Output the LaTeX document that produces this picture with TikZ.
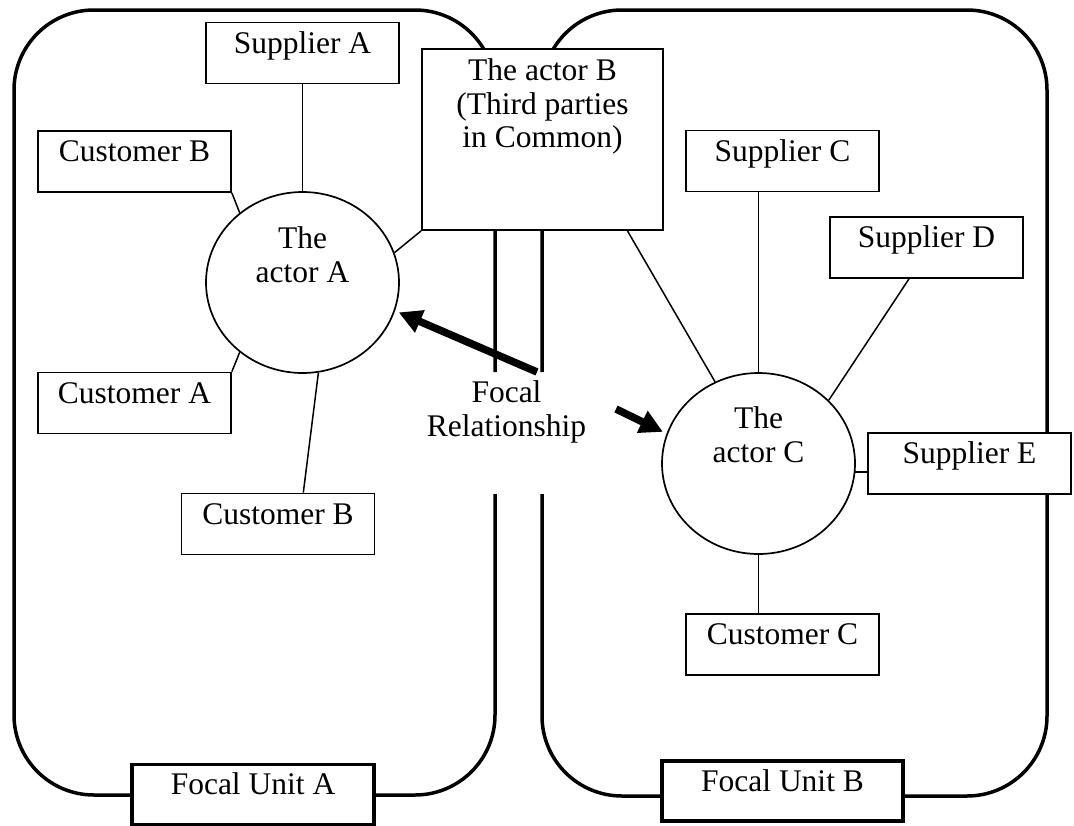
\documentclass[tikz,border=0pt]{standalone}
\usepackage{fontspec}
\setmainfont{Liberation Serif}
\usetikzlibrary{shapes.geometric,arrows.meta,calc}
\begin{document}
\begin{tikzpicture}[x=1pt,y=-1pt,
  lbl/.style={font=\fontsize{31.5}{33.5}\selectfont},
  unit/.style={line width=3.5pt, rounded corners=80pt},
  box/.style={lbl, draw, fill=white, line width=1.7pt, rectangle, inner sep=0pt,
    minimum width=193pt, minimum height=61pt, text height=22pt, text depth=22pt},
  unitbox/.style={box, line width=3.5pt, minimum width=242pt, minimum height=60pt},
  actor/.style={draw, ellipse, line width=1.7pt, fill=white,
    minimum width=193pt, minimum height=181pt, inner sep=0pt},
  txt/.style={lbl, align=center, inner sep=0pt, anchor=north},
  link/.style={line width=1.5pt},
  focal/.style={line width=7.5pt, shorten >=4pt, -{Triangle[length=23pt,width=23pt]}}
]
\useasboundingbox (0,0) rectangle (1074,825);

% the two focal units, left open where the focal relationship crosses
\draw[unit] (495,372) -- (495,10) -- (14,10) -- (14,795) -- (495,795) -- (495,494);
\draw[unit] (542,372) -- (542,10) -- (1047,10) -- (1047,796) -- (542,796) -- (542,494);

% surrounding actors
\node[box] (supA) at (302.5,53) {Supplier A};
\node[box] (cusB1) at (134.5,161.5) {Customer B};
\node[box] (cusA) at (134.5,403) {Customer A};
\node[box] (cusB2) at (278,524) {Customer B};
\node[box] (supC) at (782.5,161) {Supplier C};
\node[box] (supD) at (926.5,247.5) {Supplier D};
\node[box, minimum width=203pt] (supE) at (969.5,463.5) {Supplier E};
\node[box] (cusC) at (782.5,644.5) {Customer C};

% unit labels
\node[unitbox] (unitA) at (253,794.5) {Focal Unit A};
\node[unitbox, minimum width=241pt] (unitB) at (782.5,791) {Focal Unit B};

% third party in common
\node[draw, fill=white, line width=1.7pt, minimum width=241pt, minimum height=181pt] (actB) at (542.5,139.5) {};
\node[txt] (actBtext) at (542.5,58.5) {The actor B\\(Third parties\\in Common)};

% focal actors
\node[actor] (actA) at (302.5,282.5) {};
\node[txt] (actAtext) at (302.5,226.5) {The\\actor A};
\node[actor] (actC) at (758.5,463.5) {};
\node[txt] (actCtext) at (758.5,406.5) {The\\actor C};

\node[txt] (rel) at (506.5,380.5) {Focal\\Relationship};

% ties of actor A
\draw[link] (supA) -- (actA);
\draw[link] (cusB1.south east) -- (actA.132);
\draw[link] (cusA.north east) -- (actA.228);
\draw[link] (actA.280) -- ($(cusB2.north)!0.26!(cusB2.north east)$);
\draw[link] (actA.18) -- (actB.south west);

% ties of actor C
\draw[link] ($(actB.south)!0.7!(actB.south east)$) -- (actC.118);
\draw[link] (actC.north) -- (actC.north |- supC.south);
\draw[link] (actC.42) -- ($(supD.south)+(-17.5,0)$);
\draw[link] (actC.-5) -- (actC.-5 -| supE.west);
\draw[link] (actC.south) -- (actC.south |- cusC.north);

% focal relationship arrows
\coordinate (tailA) at (537,372);
\coordinate (tailC) at (616,409);
\draw[focal] (tailA) -- (actA.-17);
\draw[focal] (tailC) -- (actC.162);
\end{tikzpicture}
\end{document}
